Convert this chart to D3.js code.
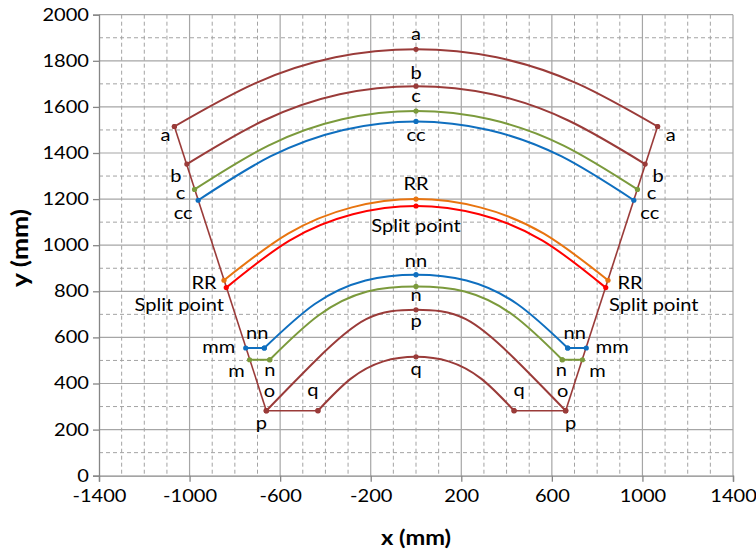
<!DOCTYPE html>
<html>
<head>
<meta charset="utf-8">
<script src="https://cdn.jsdelivr.net/npm/d3@7"></script>
<style>
  html, body { margin: 0; padding: 0; background: #fff; }
  svg { display: block; font-family: Lato, "Open Sans", sans-serif; }
</style>
</head>
<body>
<svg id="chart" width="756" height="552"></svg>
<script>
"use strict";

// tick labels
const xTicks = [-1400, -1000, -600, -200, 200, 600, 1000, 1400];
const yTicks = [0, 200, 400, 600, 800, 1000, 1200, 1400, 1600, 1800, 2000];

// outer boundary, a down to p, each side
const sideL = [[-1067, 1515], [-661, 282]];
const sideR = [[1067, 1515], [661, 282]];

// arcs (mm) at evenly spaced x: end, two along, apex, two along, end
const arcA     = [[-1067, 1515], [-711, 1702], [-356, 1815], [0, 1850], [356, 1815], [711, 1702], [1067, 1515]];
const arcB     = [[-1012, 1352], [-675, 1540], [-337, 1655], [0, 1690], [337, 1655], [675, 1540], [1012, 1352]];
const arcC     = [[-978, 1242], [-652, 1432], [-326, 1546], [0, 1582], [326, 1546], [652, 1432], [978, 1242]];
const arcCC    = [[-962, 1195], [-641, 1386], [-321, 1500], [0, 1537], [321, 1500], [641, 1386], [962, 1195]];
const arcRR    = [[-848, 848], [-565, 1050], [-283, 1164], [0, 1200], [283, 1164], [565, 1050], [848, 848]];
const arcSplit = [[-838, 816], [-559, 1020], [-279, 1134], [0, 1170], [279, 1134], [559, 1020], [838, 816]];
const arcNN    = [[-670, 554], [-447, 745], [-223, 847], [0, 872], [223, 847], [447, 745], [670, 554]];
const arcN     = [[-646, 503], [-431, 695], [-215, 799], [0, 821], [215, 799], [431, 695], [646, 503]];
const arcP     = [[-661, 282], [-441, 502], [-220, 679], [0, 720], [220, 679], [441, 502], [661, 282]];
const arcQ     = [[-433, 282], [-289, 420], [-144, 496], [0, 516], [144, 496], [289, 420], [433, 282]];

// flat steps
const flatNNL = [[-752, 554], [-670, 554]], flatNNR = [[670, 554], [752, 554]];
const flatNL  = [[-735, 503], [-646, 503]], flatNR  = [[646, 503], [735, 503]];
const flatPQL = [[-661, 282], [-433, 282]], flatPQR = [[433, 282], [661, 282]];

const BROWN = "#9a3b39", GREEN = "#7b9a3c", BLUE = "#0f6fbf", ORANGE = "#e8740f", RED = "#ff0000";

const plotL = 99, plotR = 733, plotT = 14.7, plotB = 475.7;
const SX = 1.18; // text in the picture is a bit stretched sideways

const svg = d3.select("#chart");
const x = d3.scaleLinear([-1400, 1400], [plotL, plotR]);
const y = d3.scaleLinear([0, 2000], [plotB, plotT]);

// grid
const grid = svg.append("g");
grid.selectAll(".vminor").data(d3.range(-1300, 1400, 100).filter(v => !xTicks.includes(v)))
  .join("line").attr("x1", d => x(d)).attr("x2", d => x(d)).attr("y1", plotT).attr("y2", plotB)
  .attr("stroke", "#a3a3a3").attr("stroke-dasharray", "4,3");
grid.selectAll(".hminor").data(d3.range(100, 2000, 200))
  .join("line").attr("x1", plotL).attr("x2", plotR).attr("y1", d => y(d)).attr("y2", d => y(d))
  .attr("stroke", "#a3a3a3").attr("stroke-dasharray", "4,3");
grid.selectAll(".vmajor").data(xTicks.slice(1))
  .join("line").attr("x1", d => x(d)).attr("x2", d => x(d)).attr("y1", plotT).attr("y2", plotB)
  .attr("stroke", "#a6a6a6").attr("stroke-width", 1.2);
grid.selectAll(".hmajor").data(yTicks.slice(1))
  .join("line").attr("x1", plotL).attr("x2", plotR).attr("y1", d => y(d)).attr("y2", d => y(d))
  .attr("stroke", "#a6a6a6").attr("stroke-width", 1.2);

// axes
const fs = 17;
const gx = svg.append("g").attr("transform", `translate(0,${plotB})`)
  .call(d3.axisBottom(x).tickValues(xTicks).tickSize(6).tickPadding(8).tickFormat(d3.format("d")));
const gy = svg.append("g").attr("transform", `translate(${plotL},0)`)
  .call(d3.axisLeft(y).tickValues(yTicks).tickSize(6).tickPadding(2.5).tickFormat(d3.format("d")));
[gx, gy].forEach(g => {
  g.select(".domain").attr("stroke", "#868686").attr("stroke-width", 1.3);
  g.selectAll(".tick line").attr("stroke", "#868686").attr("stroke-width", 1.3);
  g.selectAll(".tick text").attr("font-family", "Lato").attr("font-size", fs).attr("fill", "#000")
    .attr("transform", `scale(${SX},1)`);
});
gx.selectAll(".tick text").text(d => d < 0 ? "-" + Math.abs(d) : d);

svg.append("text").attr("transform", `translate(416,545) scale(${SX},1)`)
  .attr("text-anchor", "middle").attr("font-weight", "bold").attr("font-size", 20).text("x (mm)");
svg.append("text").attr("transform", `translate(28,248) rotate(-90) scale(1.2,1)`)
  .attr("text-anchor", "middle").attr("font-weight", "bold").attr("font-size", 22).text("y (mm)");

// lines
const straight = d3.line().x(d => x(d[0])).y(d => y(d[1]));
const smooth = d3.line().x(d => x(d[0])).y(d => y(d[1])).curve(d3.curveNatural);

const series = [
  { pts: sideL, color: BROWN, w: 1.6, line: straight },
  { pts: sideR, color: BROWN, w: 1.6, line: straight },
  { pts: flatPQL, color: BROWN, w: 1.6, line: straight },
  { pts: flatPQR, color: BROWN, w: 1.6, line: straight },
  { pts: flatNL, color: GREEN, w: 2, line: straight },
  { pts: flatNR, color: GREEN, w: 2, line: straight },
  { pts: flatNNL, color: BLUE, w: 2, line: straight },
  { pts: flatNNR, color: BLUE, w: 2, line: straight },
  { pts: arcA, color: BROWN, w: 2, line: smooth },
  { pts: arcB, color: BROWN, w: 2, line: smooth },
  { pts: arcC, color: GREEN, w: 2, line: smooth },
  { pts: arcCC, color: BLUE, w: 2, line: smooth },
  { pts: arcRR, color: ORANGE, w: 2, line: smooth },
  { pts: arcSplit, color: RED, w: 2, line: smooth },
  { pts: arcNN, color: BLUE, w: 2, line: smooth },
  { pts: arcN, color: GREEN, w: 2, line: smooth },
  { pts: arcP, color: BROWN, w: 2, line: smooth },
  { pts: arcQ, color: BROWN, w: 2, line: smooth }
];

const gl = svg.append("g");
series.forEach(s => {
  gl.append("path").attr("d", s.line(s.pts)).attr("fill", "none")
    .attr("stroke", s.color).attr("stroke-width", s.w);
});

// markers at ends and apex only
const gm = svg.append("g");
series.forEach(s => {
  const marks = s.line === smooth ? [s.pts[0], s.pts[3], s.pts[s.pts.length - 1]] : s.pts;
  gm.selectAll(null).data(marks).join("circle")
    .attr("cx", d => x(d[0])).attr("cy", d => y(d[1])).attr("r", 2.6).attr("fill", s.color);
});

// point labels: text, anchor point, pixel offset to baseline
const labels = [
  ["a", arcA[0], -9, 15], ["a", arcA[6], 13, 15], ["a", arcA[3], 0, -9],
  ["b", arcB[0], -11, 18], ["b", arcB[6], 13, 18], ["b", arcB[3], 0, -7],
  ["c", arcC[0], -14, 10], ["c", arcC[6], 14, 10], ["c", arcC[3], 0, -9],
  ["cc", arcCC[0], -15, 19], ["cc", arcCC[6], 16, 19], ["cc", arcCC[3], 0, 20],
  ["RR", arcRR[0], -20, 9], ["RR", arcRR[6], 22, 9], ["RR", arcRR[3], 0, -9],
  ["Split point", arcSplit[0], -47, 23], ["Split point", arcSplit[6], 48, 23], ["Split point", arcSplit[3], 0, 26],
  ["nn", flatNNL[1], -7, -9], ["nn", flatNNR[0], 7, -9], ["nn", arcNN[3], 0, -8],
  ["mm", flatNNL[0], -27, 5], ["mm", flatNNR[1], 26, 5],
  ["m", flatNL[0], -13, 17], ["m", flatNR[1], 15, 17],
  ["n", flatNL[1], 0, 16], ["n", flatNR[0], -1, 16], ["n", arcN[3], 0, 15],
  ["o", flatPQL[0], 3, -14], ["o", flatPQR[1], -3, -14],
  ["p", flatPQL[0], -5, 18], ["p", flatPQR[1], 5, 18], ["p", arcP[3], 0, 17],
  ["q", flatPQL[1], -5, -15], ["q", flatPQR[0], 5, -15], ["q", arcQ[3], 0, 18]
];

svg.append("g").selectAll("text").data(labels).join("text")
  .attr("transform", d => `translate(${x(d[1][0]) + d[2]},${y(d[1][1]) + d[3]}) scale(${SX},1)`)
  .attr("text-anchor", "middle").attr("font-size", fs).attr("fill", "#000")
  .text(d => d[0]);
</script>
</body>
</html>
